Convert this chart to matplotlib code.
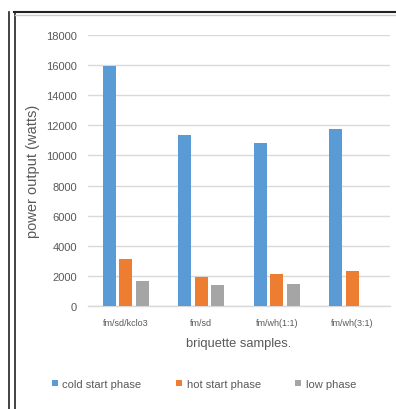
import matplotlib
matplotlib.use("Agg")
import matplotlib.pyplot as plt
from matplotlib.patches import Patch
from matplotlib.lines import Line2D
import numpy as np

plt.rcParams['font.family'] = ['Liberation Sans', 'DejaVu Sans']

samples = ["fm/sd/kclo3", "fm/sd", "fm/wh(1:1)", "fm/wh(3:1)"]
cold_start = [15950, 11350, 10800, 11750]
hot_start = [3150, 1950, 2100, 2350]
low_phase = [1650, 1400, 1450, 0]
series_names = ["cold start phase", "hot start phase", "low phase"]
colors = ["#5B9BD5", "#ED7D31", "#A5A5A5"]
y_ticks = [0, 2000, 4000, 6000, 8000, 10000, 12000, 14000, 16000, 18000]

W, H = 396, 410
fig = plt.figure(figsize=(W / 100, H / 100), dpi=100)
ax = fig.add_axes([88 / W, (H - 307) / H, (390 - 88) / W, (307 - 36) / H])

x = np.arange(len(samples))
width = 0.17
offset = 0.22
for k, (vals, col) in enumerate(zip([cold_start, hot_start, low_phase], colors)):
    ax.bar(x + (k - 1) * offset, vals, width, color=col, zorder=3)

ax.set_xlim(-0.5, len(samples) - 0.5)
ax.set_ylim(0, 18000)
ax.set_yticks(y_ticks)
ax.set_yticklabels([str(v) for v in y_ticks])
ax.set_xticks(x)
ax.set_xticklabels(samples)
ax.yaxis.grid(True, color="#d9d9d9", linewidth=1.0, zorder=0)
ax.set_axisbelow(True)
for s in ["top", "right", "left"]:
    ax.spines[s].set_visible(False)
ax.spines["bottom"].set_color("#d9d9d9")
ax.spines["bottom"].set_linewidth(1.0)
ax.tick_params(axis="both", length=0)
ax.tick_params(axis="y", labelsize=8, labelcolor="#595959", pad=8)
ax.tick_params(axis="x", labelsize=6.5, labelcolor="#595959", pad=9)

ax.set_xlabel("briquette samples.", fontsize=9.3, color="#595959", labelpad=7)
ax.set_ylabel("power output (watts)", fontsize=10.5, color="#595959", labelpad=4)

handles = [Patch(facecolor=c, edgecolor="none") for c in colors]
fig.legend(handles, series_names, loc="center", bbox_to_anchor=(204 / W, (H - 385) / H),
           ncol=3, frameon=False, fontsize=8, labelcolor="#595959",
           handlelength=0.55, handleheight=0.55, handletextpad=0.4,
           columnspacing=3.1)

# outer frame lines
frame_col = "#222222"
fig.add_artist(Line2D([8.5 / W, 8.5 / W], [0, (H - 13) / H], color=frame_col, lw=1.2,
                      transform=fig.transFigure))
fig.add_artist(Line2D([14.5 / W, 14.5 / W], [0, (H - 13) / H], color=frame_col, lw=1.2,
                      transform=fig.transFigure))
fig.add_artist(Line2D([14 / W, 1], [(H - 13) / H, (H - 13) / H], color=frame_col, lw=1.5,
                      transform=fig.transFigure))
fig.add_artist(Line2D([15 / W, 1], [(H - 15.5) / H, (H - 15.5) / H], color="#cccccc", lw=1.0,
                      transform=fig.transFigure))

fig.savefig("out.png", dpi=100)
